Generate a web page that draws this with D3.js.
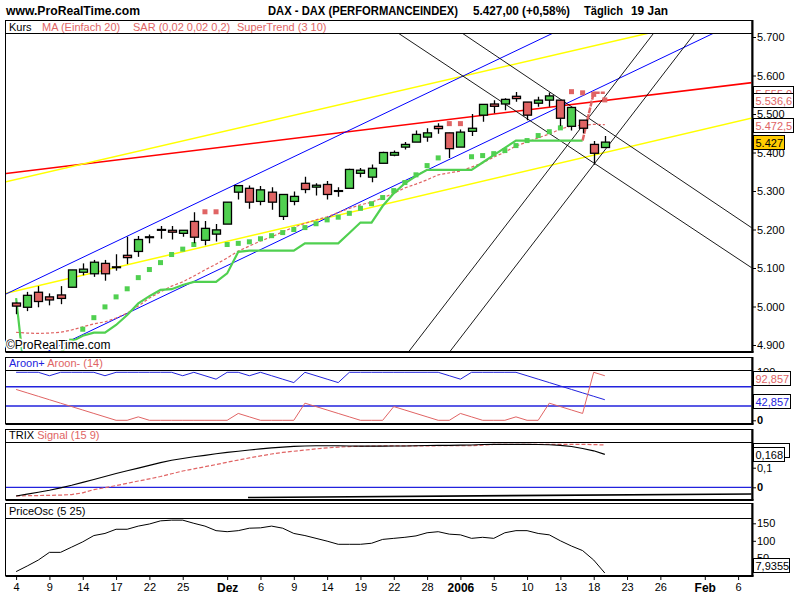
<!DOCTYPE html>
<html><head><meta charset="utf-8">
<script src="https://cdn.jsdelivr.net/npm/d3@7"></script>
<style>body{margin:0;background:#fff}svg{display:block}text{font-family:"Liberation Sans",Arial,sans-serif}</style>
</head><body><svg id="c" width="800" height="600"></svg>
<script>
// ---------------- DATA ----------------
const dates = ["04.11","07.11","08.11","09.11","10.11","11.11","14.11","15.11","16.11","17.11","18.11","21.11","22.11","23.11","24.11","25.11","28.11","29.11","30.11",
"01.12","02.12","05.12","06.12","07.12","08.12","09.12","12.12","13.12","14.12","15.12","16.12","19.12","20.12","21.12","22.12","23.12","27.12","28.12","29.12","30.12",
"02.01","03.01","04.01","05.01","06.01","09.01","10.01","11.01","12.01","13.01","16.01","17.01","18.01","19.01"];
const open  = [5009,4998,5037,5025,5030,5050,5089,5085,5112,5103,5133,5143,5181,5200,5198,5190,5221,5172,5188,5214,5297,5307,5273,5297,5234,5273,5320,5310,5317,5301,5307,5346,5336,5372,5393,5414,5427,5440,5468,5451,5414,5455,5497,5526,5526,5546,5531,5528,5536,5536,5468,5484,5421,5413];
const high  = [5010,5038,5053,5034,5053,5095,5112,5121,5121,5136,5181,5183,5187,5209,5209,5198,5245,5222,5214,5271,5314,5314,5313,5310,5291,5299,5337,5320,5326,5310,5358,5360,5369,5402,5405,5427,5457,5463,5476,5451,5460,5500,5525,5536,5541,5557,5531,5545,5556,5536,5517,5484,5430,5443];
const low   = [4980,4988,4998,5003,5006,5050,5081,5077,5067,5093,5110,5129,5164,5176,5174,5181,5164,5159,5169,5214,5278,5254,5263,5251,5225,5263,5294,5288,5278,5285,5307,5336,5323,5372,5390,5408,5427,5428,5449,5386,5414,5443,5480,5502,5510,5532,5484,5519,5519,5469,5457,5450,5368,5413];
const close = [5001,5029,5013,5017,5021,5095,5097,5115,5085,5101,5127,5174,5181,5199,5193,5198,5180,5203,5199,5271,5314,5271,5303,5271,5291,5286,5304,5315,5291,5301,5356,5354,5359,5400,5400,5421,5447,5451,5462,5410,5453,5463,5525,5520,5538,5540,5497,5536,5547,5489,5517,5463,5398,5427];
const ma20  = [4933,4931,4930,4931,4933,4939,4947,4955,4960,4970,4983,5001,5022,5038,5053,5064,5079,5095,5110,5126,5144,5157,5170,5181,5194,5206,5216,5225,5233,5244,5255,5264,5271,5282,5294,5308,5318,5329,5342,5347,5352,5362,5373,5388,5401,5417,5427,5438,5448,5461,5469,5471,5473,5472.5];
const sar   = [null,null,null,null,null,4910,4941,4971,4999,5025,5046,5075,5096,5114,5135,5149,5161,5246,5246,5161,5164,5168,5176,5184,5192,5200,5205,5215,5225,5232,5242,5255,5267,5283,5301,5322,5342,5366,5386,5475,5475,5389,5392,5397,5405,5418,5431,5444,5454,5464,5558,5555,5551,5536.6];
const superTrend = [5022,4760,4800,4840,4880,4909,4924,4932,4932,4952,4978,5008,5027,5043,5045,5056,5064,5064,5064,5086,5142,5145,5145,5145,5145,5145,5164,5164,5164,5164,5191,5218,5218,5261,5294,5320,5339,5355,5355,5355,5355,5355,5374,5393,5412,5431,5431,5431,5431,5431,5431,5431,5555,5555];
const aroonUp   = [100,100,100,92.86,100,100,100,100,92.86,100, 100,100,100,100,100,92.86,100,92.86,85.71,100, 100,92.86,100,92.86,85.71,78.57,100,92.86,85.71,78.57, 100,100,100,100,100,100,100,100,100,92.86, 85.71,100,100,100,100,100,92.86,85.71,78.57,71.43, 64.29,57.14,50,42.857];
const aroonDown = [64.29,57.14,50,42.86,35.71,28.57,21.43,14.29,7.14,0, 0,7.14,0,0,0,0,0,0,0,0, 14.29,7.14,0,0,0,0,35.71,28.57,21.43,14.29, 7.14,0,0,0,28.57,21.43,14.29,7.14,0,0, 14.29,7.14,0,0,0,7.14,0,0,35.71,28.57, 21.43,14.29,100,92.857];
const trix   = [-0.044,-0.035,-0.025,-0.015,-0.003,0.010,0.025,0.040,0.055,0.070,0.084,0.098,0.112,0.126,0.138,0.147,0.156,0.163,0.171,0.178,0.184,0.190,0.196,0.201,0.205,0.209,0.211,0.212,0.212,0.212,0.211,0.210,0.210,0.210,0.211,0.211,0.212,0.213,0.214,0.214,0.215,0.216,0.218,0.219,0.219,0.219,0.219,0.218,0.217,0.214,0.208,0.198,0.186,0.168];
const trixSignal = [-0.044,-0.043,-0.042,-0.041,-0.040,-0.037,-0.028,-0.012,-0.002,0.009,0.020,0.032,0.043,0.055,0.069,0.083,0.094,0.105,0.116,0.128,0.139,0.150,0.160,0.170,0.178,0.184,0.190,0.196,0.201,0.205,0.208,0.209,0.210,0.211,0.211,0.211,0.211,0.211,0.212,0.212,0.212,0.212,0.215,0.219,0.219,0.219,0.219,0.219,0.219,0.219,0.219,0.219,0.218,0.216];
const priceOsc = [12,28,45,67,67,82,97,115,121,133,133,142,148,157,159,159,150,142,129,126,129,136,137,142,136,121,115,107,99,90,90,90,93,104,107,110,114,123,126,119,117,107,110,107,123,129,129,121,117,100,85,72,45,7.9355];
// user-drawn trend lines: [index, price]
const blueUpper   = [[-0.91,5032.5],[48.36,5710.4]];
const blueLower   = [[2.9,4884.4],[62.83,5710.4]];
const yellowUpper = [[-1,5323.4],[57.0,5710.4]];
const yellowLower = [[-0.91,5034.3],[66.34,5490.4]];
const redLong     = [[-0.91,5345.5],[66.34,5581.8]];
const blackDownA  = [[34.38,5710.4],[66.25,5100]];
const blackDownB  = [[40.14,5710.4],[66.25,5203.9]];
const blackUpC    = [[35.39,4884.4],[57.41,5710.4]];
const blackUpD    = [[39.09,4884.4],[61.11,5710.4]];
const trixTrend   = [[20.88,-0.052],[66.25,-0.034]];
// axes
const priceTicks = [4900,5000,5100,5200,5300,5400,5500,5600,5700];
const aroonTicks = [0,50,100], aroonTickText = ["0","","100"];
const trixTicks = [0,0.1,0.2], trixTickText = ["0","0,1",""];
const oscTicks = [50,100,150];
const tickIdx  = [0,3,6,9,12,15,19,22,25,28,31,34,37,40,43,46,49,52,55,58,62,65];
const tickText = ["4","9","14","17","22","25","Dez","6","9","14","19","22","28","2006","5","10","13","18","23","26","Feb","6"];
const boldTicks = ["Dez","2006","Feb"];

// ---------------- DRAW ----------------
const GREEN="#50d050", RED="#e06464", BLUE="#2222dd";
const de = d3.formatLocale({decimal:",",thousands:".",grouping:[3],currency:["",""]});
const svg = d3.select("#c");
const X0=5.5, X1=752;
const x = d3.scaleLinear().domain([-1,66.25]).range([5,752]);
const P = {
  main:{top:20, sep:33, bot:351},
  aroon:{top:357, sep:370, bot:423},
  trix:{top:429, sep:442, bot:499},
  posc:{top:503, sep:518, bot:575}
};
const yMain  = d3.scaleLinear().domain([4900,5700]).range([345,37]);
const yAroon = d3.scaleLinear().domain([0,100]).range([420.3,372.3]);
const yTrix  = d3.scaleLinear().domain([0,0.1]).range([487.3,467.7]);
const yPosc  = d3.scaleLinear().domain([0,150]).range([575.8,523.3]);

const defs = svg.append("defs");
function panel(name,p){
  svg.append("rect").attr("x",X0).attr("y",p.top+0.5).attr("width",X1-X0).attr("height",p.bot-p.top)
    .attr("fill","#fff").attr("stroke","#000").attr("stroke-width",1);
  svg.append("line").attr("x1",X0).attr("x2",X1).attr("y1",p.sep+0.5).attr("y2",p.sep+0.5).attr("stroke","#000");
  defs.append("clipPath").attr("id","cl-"+name).append("rect")
    .attr("x",X0+0.5).attr("y",p.sep+1).attr("width",X1-X0-1).attr("height",p.bot-p.sep-1);
  return svg.append("g").attr("clip-path","url(#cl-"+name+")");
}
function frame(p){
  svg.append("line").attr("x1",X1+0.5).attr("x2",X1+0.5).attr("y1",p.top).attr("y2",p.bot+1.5).attr("stroke","#000").attr("stroke-width",2);
  svg.append("line").attr("x1",X0).attr("x2",X1+1.5).attr("y1",p.bot+1).attr("y2",p.bot+1).attr("stroke","#000").attr("stroke-width",2);
}

// header
svg.append("text").attr("x",6).attr("y",15).attr("font-size",13).attr("font-weight","bold").attr("textLength",134).attr("lengthAdjust","spacingAndGlyphs").text("www.ProRealTime.com");
svg.append("text").attr("x",268).attr("y",15).attr("font-size",12).attr("font-weight","bold").attr("textLength",190).attr("lengthAdjust","spacingAndGlyphs").text("DAX - DAX (PERFORMANCEINDEX)");
svg.append("text").attr("x",473).attr("y",15).attr("font-size",12).attr("font-weight","bold").attr("textLength",97).attr("lengthAdjust","spacingAndGlyphs").text("5.427,00 (+0,58%)");
svg.append("text").attr("x",584).attr("y",15).attr("font-size",12).attr("font-weight","bold").attr("textLength",39).attr("lengthAdjust","spacingAndGlyphs").text("Täglich");
svg.append("text").attr("x",631).attr("y",15).attr("font-size",12).attr("font-weight","bold").attr("textLength",37).attr("lengthAdjust","spacingAndGlyphs").text("19 Jan");

// ===== MAIN =====
const gM = panel("main",P.main);
const lineGen = (ys)=>d3.line().x(d=>x(d[0])).y(d=>ys(d[1]));
function tl(pts,color,w){ gM.append("path").attr("d",lineGen(yMain)(pts)).attr("fill","none").attr("stroke",color).attr("stroke-width",w); }
tl(redLong,"#ff0000",1.5);
tl(yellowUpper,"#ffff00",1.5);
tl(yellowLower,"#ffff00",1.5);
tl(blueUpper,"#0000ff",1);
tl(blueLower,"#0000ff",1);
tl(blackDownA,"#000",0.9);
tl(blackDownB,"#000",0.9);
tl(blackUpC,"#000",0.9);
tl(blackUpD,"#000",0.9);

const idx = d3.range(close.length);
// MA
gM.append("path").attr("d",d3.line().x(i=>x(i)).y(i=>yMain(ma20[i]))(idx))
  .attr("fill","none").attr("stroke",RED).attr("stroke-width",1.2).attr("stroke-dasharray","3,2");
// SuperTrend
const stLine = d3.line().x(i=>x(i)).y(i=>yMain(superTrend[i]));
gM.append("path").attr("d",stLine(idx.filter(i=>i<=51))).attr("fill","none").attr("stroke",GREEN).attr("stroke-width",2.2);
gM.append("path").attr("d",stLine(idx.filter(i=>i>=51))).attr("fill","none").attr("stroke",RED).attr("stroke-width",2.5).attr("stroke-dasharray","6,1");
// SAR
gM.selectAll("rect.sar").data(idx.filter(i=>sar[i]!=null)).join("rect")
  .attr("x",i=>x(i)-2.5).attr("y",i=>yMain(sar[i])-2.5).attr("width",5).attr("height",5)
  .attr("fill",i=>sar[i]>high[i]?RED:GREEN);
// candles
const cg = gM.selectAll("g.c").data(idx).join("g");
cg.append("line").attr("x1",i=>Math.round(x(i))+0.5).attr("x2",i=>Math.round(x(i))+0.5)
  .attr("y1",i=>yMain(high[i])).attr("y2",i=>yMain(low[i])).attr("stroke","#000").attr("stroke-width",1.3);
cg.append("rect").attr("x",i=>Math.round(x(i))-3.5).attr("width",8)
  .attr("y",i=>yMain(Math.max(open[i],close[i])))
  .attr("height",i=>Math.max(0.8,Math.abs(yMain(open[i])-yMain(close[i]))))
  .attr("fill",i=>close[i]>open[i]?GREEN:(close[i]<open[i]?RED:"#000"))
  .attr("stroke","#000").attr("stroke-width",1.3);

svg.append("text").attr("x",6).attr("y",349).attr("font-size",12).attr("stroke","#fff").attr("stroke-width",3).attr("paint-order","stroke").text("©ProRealTime.com");
frame(P.main);
// legend
const lg = svg.append("text").attr("x",9).attr("y",30.5).attr("font-size",11);
lg.append("tspan").attr("fill","#000").text("Kurs");
lg.append("tspan").attr("x",42).attr("fill",RED).text("MA (Einfach 20)");
lg.append("tspan").attr("x",133).attr("fill",RED).text("SAR (0,02 0,02 0,2)");
lg.append("tspan").attr("x",237).attr("fill",RED).text("SuperTrend (3 10)");

function styleAxis(a){ a.select(".domain").remove(); a.selectAll("text").attr("font-size",11).attr("font-family","Liberation Sans, Arial").attr("fill","#000"); a.selectAll("line").attr("stroke","#000"); }
const axM = svg.append("g").attr("transform",`translate(${X1},0)`)
  .call(d3.axisRight(yMain).tickValues(priceTicks).tickSize(4).tickPadding(1).tickFormat(v=>de.format(",.0f")(v)));
styleAxis(axM);

function box(yc,txt,color,fill,w,pan){
  let h=14, y0=Math.round(yc-h/2);
  if(pan){ y0=Math.max(pan.top+1,Math.min(y0,pan.bot-h-3)); }
  svg.append("rect").attr("x",753.5).attr("y",y0+0.5).attr("width",w).attr("height",h).attr("fill",fill).attr("stroke","#000");
  svg.append("text").attr("x",755.5).attr("y",y0+11.5).attr("font-size",11).attr("fill",color).text(txt);
}
box(yMain(superTrend[53]),de.format(",.1f")(superTrend[53]),RED,"#fff",40);
box(yMain(sar[53]),de.format(",.1f")(sar[53]),RED,"#fff",40);
box(yMain(ma20[53]),de.format(",.1f")(ma20[53]),RED,"#fff",40);
box(yMain(close[53]),de.format(",.0f")(close[53]),"#000","#ffcc00",31);

// ===== AROON =====
const gA = panel("aroon",P.aroon);
[70,30].forEach(v=>gA.append("line").attr("x1",X0).attr("x2",X1).attr("y1",yAroon(v)).attr("y2",yAroon(v)).attr("stroke",BLUE).attr("stroke-width",1.5));
gA.append("path").attr("d",d3.line().x(i=>x(i)).y(i=>yAroon(aroonUp[i]))(idx)).attr("fill","none").attr("stroke",BLUE).attr("stroke-width",1);
gA.append("path").attr("d",d3.line().x(i=>x(i)).y(i=>yAroon(aroonDown[i]))(idx)).attr("fill","none").attr("stroke",RED).attr("stroke-width",1);
frame(P.aroon);
const la = svg.append("text").attr("x",9).attr("y",367).attr("font-size",11);
la.append("tspan").attr("fill",BLUE).text("Aroon+ ");
la.append("tspan").attr("fill",RED).text("Aroon- (14)");
const axA = svg.append("g").attr("transform",`translate(${X1},0)`)
  .call(d3.axisRight(yAroon).tickValues(aroonTicks).tickSize(4).tickPadding(1).tickFormat((d,i)=>aroonTickText[i]));
styleAxis(axA); axA.selectAll("text").filter(d=>d===0).attr("font-weight","bold");
box(yAroon(aroonDown[53])+2,de.format(",.3f")(aroonDown[53]),RED,"#fff",37);
box(yAroon(aroonUp[53])+1,de.format(",.3f")(aroonUp[53]),BLUE,"#fff",37);

// ===== TRIX =====
const gT = panel("trix",P.trix);
gT.append("line").attr("x1",X0).attr("x2",X1).attr("y1",yTrix(0)).attr("y2",yTrix(0)).attr("stroke",BLUE).attr("stroke-width",1.3);
gT.append("path").attr("d",lineGen(yTrix)(trixTrend)).attr("fill","none").attr("stroke","#000").attr("stroke-width",1.6);
gT.append("path").attr("d",d3.line().x(i=>x(i)).y(i=>yTrix(trixSignal[i]))(idx)).attr("fill","none").attr("stroke",RED).attr("stroke-width",1.2).attr("stroke-dasharray","4,2");
gT.append("path").attr("d",d3.line().x(i=>x(i)).y(i=>yTrix(trix[i]))(idx)).attr("fill","none").attr("stroke","#000").attr("stroke-width",1.1);
frame(P.trix);
const lt = svg.append("text").attr("x",9).attr("y",439).attr("font-size",11);
lt.append("tspan").attr("fill","#000").text("TRIX ");
lt.append("tspan").attr("fill",RED).text("Signal (15 9)");
const axT = svg.append("g").attr("transform",`translate(${X1},0)`)
  .call(d3.axisRight(yTrix).tickValues(trixTicks).tickSize(4).tickPadding(1).tickFormat((d,i)=>trixTickText[i]));
styleAxis(axT); axT.selectAll("text").filter(d=>d===0).attr("font-weight","bold");
box(yTrix(trixSignal[53])+5,de.format(",.3f")(trixSignal[53]),RED,"#fff",36);
box(yTrix(trix[53]),de.format(",.3f")(trix[53]),"#000","#fff",31);

// ===== PRICE OSC =====
const gP = panel("posc",P.posc);
gP.append("path").attr("d",d3.line().x(i=>x(i)).y(i=>yPosc(priceOsc[i]))(idx)).attr("fill","none").attr("stroke","#000").attr("stroke-width",1);
frame(P.posc);
svg.append("text").attr("x",9).attr("y",515).attr("font-size",11).text("PriceOsc (5 25)");
const axP = svg.append("g").attr("transform",`translate(${X1},0)`)
  .call(d3.axisRight(yPosc).tickValues(oscTicks).tickSize(4).tickPadding(1).tickFormat(d3.format("d")));
styleAxis(axP);
box(yPosc(priceOsc[53]),de.format(",.4f")(priceOsc[53]),"#000","#fff",36,P.posc);

// x axis
const axX = svg.append("g").attr("transform",`translate(0,${P.posc.bot+1})`)
  .call(d3.axisBottom(x).tickValues(tickIdx).tickSize(4).tickPadding(3).tickFormat((d,i)=>tickText[i]));
styleAxis(axX);
axX.selectAll("text").filter((d,i)=>boldTicks.includes(tickText[i])).attr("font-weight","bold").attr("font-size",12);
</script></body></html>
